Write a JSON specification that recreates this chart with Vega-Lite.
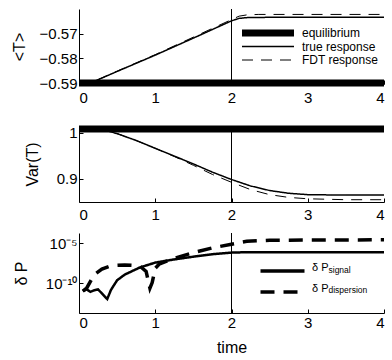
{
  "$schema": "https://vega.github.io/schema/vega-lite/v6.json",
  "padding": {"left": 11, "top": 8, "right": 0, "bottom": 0},
  "spacing": 10,
  "config": {
    "font": "Liberation Sans",
    "view": {"stroke": null},
    "axis": {
      "grid": false,
      "domainColor": "black",
      "tickColor": "black",
      "labelColor": "black",
      "titleColor": "black",
      "labelFontSize": 15,
      "titleFontSize": 16,
      "titleFontWeight": "normal",
      "tickSize": -4
    },
    "axisY": {"labelPadding": 6},
    "legend": {"labelFontSize": 12, "labelColor": "black", "symbolStrokeColor": "black"}
  },
  "datasets": {
    "meanT": [
      {"t": 0, "v": -0.59, "s": "equilibrium"},
      {"t": 4, "v": -0.59, "s": "equilibrium"},
      {"t": 0, "v": -0.59, "s": "true response"},
      {"t": 0.15, "v": -0.59, "s": "true response"},
      {"t": 0.5, "v": -0.5853, "s": "true response"},
      {"t": 1, "v": -0.5787, "s": "true response"},
      {"t": 1.5, "v": -0.5718, "s": "true response"},
      {"t": 2, "v": -0.5648, "s": "true response"},
      {"t": 2.1, "v": -0.5638, "s": "true response"},
      {"t": 2.2, "v": -0.5635, "s": "true response"},
      {"t": 2.35, "v": -0.5634, "s": "true response"},
      {"t": 4, "v": -0.5633, "s": "true response"},
      {"t": 0, "v": -0.59, "s": "FDT response"},
      {"t": 0.15, "v": -0.59, "s": "FDT response"},
      {"t": 0.5, "v": -0.5852, "s": "FDT response"},
      {"t": 1, "v": -0.5785, "s": "FDT response"},
      {"t": 1.5, "v": -0.5714, "s": "FDT response"},
      {"t": 2, "v": -0.5643, "s": "FDT response"},
      {"t": 2.1, "v": -0.5629, "s": "FDT response"},
      {"t": 2.2, "v": -0.5624, "s": "FDT response"},
      {"t": 2.35, "v": -0.5622, "s": "FDT response"},
      {"t": 4, "v": -0.5622, "s": "FDT response"}
    ],
    "varT": [
      {"t": 0, "v": 1.008, "s": "equilibrium"},
      {"t": 4, "v": 1.008, "s": "equilibrium"},
      {"t": 0, "v": 1.01, "s": "true response"},
      {"t": 0.3, "v": 1.007, "s": "true response"},
      {"t": 0.5, "v": 0.998, "s": "true response"},
      {"t": 0.75, "v": 0.983, "s": "true response"},
      {"t": 1, "v": 0.966, "s": "true response"},
      {"t": 1.25, "v": 0.949, "s": "true response"},
      {"t": 1.5, "v": 0.932, "s": "true response"},
      {"t": 1.75, "v": 0.914, "s": "true response"},
      {"t": 2, "v": 0.898, "s": "true response"},
      {"t": 2.25, "v": 0.884, "s": "true response"},
      {"t": 2.5, "v": 0.874, "s": "true response"},
      {"t": 2.75, "v": 0.868, "s": "true response"},
      {"t": 3, "v": 0.865, "s": "true response"},
      {"t": 3.5, "v": 0.864, "s": "true response"},
      {"t": 4, "v": 0.864, "s": "true response"},
      {"t": 0, "v": 1.01, "s": "FDT response"},
      {"t": 0.3, "v": 1.007, "s": "FDT response"},
      {"t": 0.5, "v": 0.998, "s": "FDT response"},
      {"t": 0.75, "v": 0.983, "s": "FDT response"},
      {"t": 1, "v": 0.966, "s": "FDT response"},
      {"t": 1.25, "v": 0.948, "s": "FDT response"},
      {"t": 1.5, "v": 0.929, "s": "FDT response"},
      {"t": 1.75, "v": 0.909, "s": "FDT response"},
      {"t": 2, "v": 0.892, "s": "FDT response"},
      {"t": 2.25, "v": 0.876, "s": "FDT response"},
      {"t": 2.5, "v": 0.865, "s": "FDT response"},
      {"t": 2.75, "v": 0.859, "s": "FDT response"},
      {"t": 3, "v": 0.856, "s": "FDT response"},
      {"t": 3.5, "v": 0.854, "s": "FDT response"},
      {"t": 4, "v": 0.854, "s": "FDT response"}
    ],
    "dP": [
      {"t": 0.05, "v": 1.1e-11, "s": "signal"},
      {"t": 0.1, "v": 1.8e-11, "s": "signal"},
      {"t": 0.15, "v": 8.9e-12, "s": "signal"},
      {"t": 0.2, "v": 1.4e-11, "s": "signal"},
      {"t": 0.25, "v": 1.8e-11, "s": "signal"},
      {"t": 0.3, "v": 5.6e-12, "s": "signal"},
      {"t": 0.37, "v": 1.1e-12, "s": "signal"},
      {"t": 0.42, "v": 1.6e-11, "s": "signal"},
      {"t": 0.5, "v": 2.5e-10, "s": "signal"},
      {"t": 0.6, "v": 1.26e-9, "s": "signal"},
      {"t": 0.8, "v": 1e-8, "s": "signal"},
      {"t": 1, "v": 4e-8, "s": "signal"},
      {"t": 1.25, "v": 1e-7, "s": "signal"},
      {"t": 1.5, "v": 2.2e-7, "s": "signal"},
      {"t": 1.75, "v": 4.5e-7, "s": "signal"},
      {"t": 2, "v": 7.1e-7, "s": "signal"},
      {"t": 2.2, "v": 7.9e-7, "s": "signal"},
      {"t": 4, "v": 7.9e-7, "s": "signal"},
      {"t": 0.05, "v": 1.1e-11, "s": "dispersion"},
      {"t": 0.1, "v": 2.5e-11, "s": "dispersion"},
      {"t": 0.2, "v": 1.26e-9, "s": "dispersion"},
      {"t": 0.3, "v": 6.3e-9, "s": "dispersion"},
      {"t": 0.4, "v": 1.4e-8, "s": "dispersion"},
      {"t": 0.5, "v": 1.8e-8, "s": "dispersion"},
      {"t": 0.6, "v": 2e-8, "s": "dispersion"},
      {"t": 0.7, "v": 1.8e-8, "s": "dispersion"},
      {"t": 0.8, "v": 1.4e-8, "s": "dispersion"},
      {"t": 0.88, "v": 3.2e-9, "s": "dispersion"},
      {"t": 0.93, "v": 2.5e-11, "s": "dispersion"},
      {"t": 0.96, "v": 1.26e-10, "s": "dispersion"},
      {"t": 1, "v": 7.9e-9, "s": "dispersion"},
      {"t": 1.05, "v": 2.5e-8, "s": "dispersion"},
      {"t": 1.2, "v": 1e-7, "s": "dispersion"},
      {"t": 1.5, "v": 7.1e-7, "s": "dispersion"},
      {"t": 1.75, "v": 2.8e-6, "s": "dispersion"},
      {"t": 2, "v": 7.9e-6, "s": "dispersion"},
      {"t": 2.2, "v": 1.8e-5, "s": "dispersion"},
      {"t": 2.5, "v": 2.5e-5, "s": "dispersion"},
      {"t": 4, "v": 2.8e-5, "s": "dispersion"}
    ],
    "marker": [{"t": 2}]
  },
  "vconcat": [
    {
      "width": 305,
      "height": 75,
      "layer": [
        {
          "data": {"name": "meanT"},
          "mark": {"type": "line", "color": "black", "clip": false},
          "encoding": {
            "x": {"field": "t", "type": "quantitative", "scale": {"domain": [0, 4]}, "axis": {"values": [0, 1, 2, 3, 4], "format": "d", "title": null, "labelPadding": 10}},
            "y": {"field": "v", "type": "quantitative", "scale": {"domain": [-0.5904, -0.56], "zero": false}, "axis": {"values": [-0.59, -0.58, -0.57], "format": ".2f", "title": "<T>", "titlePadding": 12}},
            "detail": {"field": "s"},
            "strokeWidth": {"field": "s", "type": "nominal", "scale": {"type": "ordinal", "domain": ["equilibrium", "true response", "FDT response"], "range": [7, 1.5, 1]}, "legend": {"title": null, "orient": "none", "legendX": 183, "legendY": 18, "symbolType": "M-26,0H26", "symbolSize": 4, "rowPadding": 1.5, "labelOffset": 28, "encode": {"symbols": {"update": {"strokeJoin": {"value": "round"}}}}}},
            "strokeDash": {"field": "s", "type": "nominal", "scale": {"domain": ["equilibrium", "true response", "FDT response"], "range": [[1, 0], [1, 0], [11, 8]]}, "legend": {"title": null, "orient": "none", "legendX": 183, "legendY": 18, "symbolType": "M-26,0H26", "symbolSize": 4, "rowPadding": 1.5, "labelOffset": 28, "encode": {"symbols": {"update": {"strokeJoin": {"value": "round"}}}}}}
          }
        },
        {
          "data": {"name": "marker"},
          "mark": {"type": "rule", "color": "black", "strokeWidth": 1},
          "encoding": {"x": {"field": "t", "type": "quantitative"}}
        }
      ]
    },
    {
      "width": 305,
      "height": 76,
      "layer": [
        {
          "data": {"name": "varT"},
          "mark": {"type": "line", "color": "black", "clip": false},
          "encoding": {
            "x": {"field": "t", "type": "quantitative", "scale": {"domain": [0, 4]}, "axis": {"values": [0, 1, 2, 3, 4], "format": "d", "title": null, "labelPadding": 9}},
            "y": {"field": "v", "type": "quantitative", "scale": {"domain": [0.849, 1.0146], "zero": false}, "axis": {"values": [0.9, 1], "format": "~g", "title": "Var(T)", "titlePadding": 16}},
            "detail": {"field": "s"},
            "strokeWidth": {"field": "s", "type": "nominal", "scale": {"type": "ordinal", "domain": ["equilibrium", "true response", "FDT response"], "range": [7, 1.5, 1]}, "legend": null},
            "strokeDash": {"field": "s", "type": "nominal", "scale": {"domain": ["equilibrium", "true response", "FDT response"], "range": [[1, 0], [1, 0], [11, 8]]}, "legend": null}
          }
        },
        {
          "data": {"name": "marker"},
          "mark": {"type": "rule", "color": "black", "strokeWidth": 1},
          "encoding": {"x": {"field": "t", "type": "quantitative"}}
        }
      ]
    },
    {
      "width": 305,
      "height": 80,
      "layer": [
        {
          "data": {"name": "dP"},
          "mark": {"type": "line", "color": "black", "clip": false},
          "encoding": {
            "x": {"field": "t", "type": "quantitative", "scale": {"domain": [0, 4]}, "axis": {"values": [0, 1, 2, 3, 4], "format": "d", "title": "time", "titlePadding": 9, "labelPadding": 6}},
            "y": {"field": "v", "type": "quantitative", "scale": {"type": "log", "domain": [2e-14, 2e-4]}, "axis": {"values": [1e-10, 1e-5], "labelExpr": "datum.value < 1e-7 ? '10⁻¹⁰' : '10⁻⁵'", "title": "δ P", "titlePadding": 16}},
            "detail": {"field": "s"},
            "strokeDash": {"field": "s", "type": "nominal", "scale": {"domain": ["signal", "dispersion"], "range": [[1, 0], [14, 9]]}, "legend": {"title": null, "orient": "none", "legendX": 198, "legendY": 32.5, "symbolType": "M-22,0H22", "symbolSize": 4, "symbolStrokeWidth": 3.5, "rowPadding": 9, "labelOffset": 24, "labelFontSize": 11, "labelBaseline": "alphabetic", "labelExpr": "'δ P'", "encode": {"symbols": {"update": {"strokeJoin": {"value": "round"}}}}}},
            "strokeWidth": {"field": "s", "type": "nominal", "scale": {"type": "ordinal", "domain": ["signal", "dispersion", "none"], "range": [2.5, 3.5, 1]}, "legend": {"values": ["signal", "dispersion"], "title": null, "orient": "none", "legendX": 198, "legendY": 32.5, "symbolType": "M-22,0H22", "symbolSize": 4, "symbolOpacity": 0, "rowPadding": 11.5, "labelOffset": 43, "labelFontSize": 8.5}}
          }
        },
        {
          "data": {"name": "marker"},
          "mark": {"type": "rule", "color": "black", "strokeWidth": 1},
          "encoding": {"x": {"field": "t", "type": "quantitative"}}
        }
      ]
    }
  ],
  "resolve": {"scale": {"strokeWidth": "independent", "strokeDash": "independent"}, "legend": {"strokeWidth": "independent", "strokeDash": "independent"}}
}
